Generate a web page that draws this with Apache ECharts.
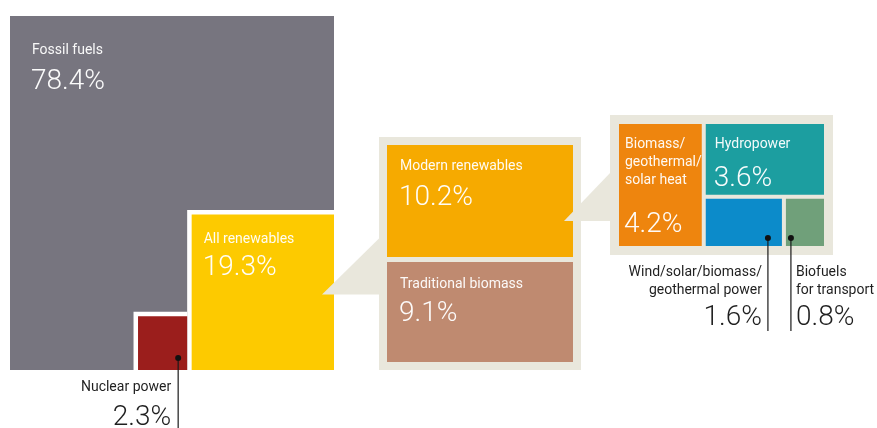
<!DOCTYPE html>
<html>
<head>
<meta charset="utf-8">
<script src="https://cdn.jsdelivr.net/npm/echarts@6.0.0/dist/echarts.min.js"></script>
<style>
html,body{margin:0;padding:0;background:#ffffff;}
#c{width:877px;height:428px;}
</style>
</head>
<body>
<div id="c"></div>
<script>
// ---------------- data (shares of final energy consumption, %) ----------------
const mainNames = ['Fossil fuels', 'Nuclear power', 'All renewables'];
const mainValues = [78.4, 2.3, 19.3];
const renewableNames = ['Modern renewables', 'Traditional biomass'];
const renewableValues = [10.2, 9.1];
const modernNames = ['Biomass/\ngeothermal/\nsolar heat', 'Hydropower', 'Wind/solar/biomass/\ngeothermal power', 'Biofuels\nfor transport'];
const modernValues = [4.2, 3.6, 1.6, 0.8];

// ---------------- layout frames (chart units) and styles ----------------
const MAIN = {x: 10, y: 16, w: 324, h: 354, gap: 4.5};
const P1 = {x: 379, y: 137, w: 202, h: 233, pad: 8, gap: 5};
const P2 = {x: 610, y: 115, w: 223, h: 140, pad: 9, gap: 4};
const COLORS = {
  fossil: '#77757f', nuclear: '#9b1e1c', renew: '#fdca00',
  modern: '#f6aa00', trad: '#bf8a70',
  biomass: '#ee850e', hydro: '#1c9ea0', wind: '#0c8bca', biofuel: '#70a07a',
  panel: '#e9e7dc'
};
const FONT = 'Roboto, "Noto Sans", sans-serif';
const NAME_FONT = '400 14px ' + FONT;
const VALUE_FONT = '300 28px ' + FONT;
const fmt = v => v.toFixed(1) + '%';
const sum = a => a.reduce((s, v) => s + v, 0);

// ---------------- value-driven geometry ----------------
const mainTotal = sum(mainValues);
const mx1 = MAIN.x + MAIN.w, my1 = MAIN.y + MAIN.h;
const kR = Math.sqrt(mainValues[2] / mainTotal);
const kN = Math.sqrt(mainValues[1] / mainTotal);
const rFossil = [MAIN.x, MAIN.y, mx1, my1];
const rRenew = [mx1 - MAIN.w * kR, my1 - MAIN.h * kR, mx1, my1];
const rNuclear = [rRenew[0] - MAIN.gap - MAIN.w * kN, my1 - MAIN.h * kN, rRenew[0] - MAIN.gap, my1];

// panel 1: vertical split of renewables
const p1x0 = P1.x + P1.pad, p1y0 = P1.y + P1.pad, p1x1 = P1.x + P1.w - P1.pad, p1y1 = P1.y + P1.h - P1.pad;
const p1hAvail = (p1y1 - p1y0) - P1.gap;
const hModern = p1hAvail * renewableValues[0] / sum(renewableValues);
const rModern = [p1x0, p1y0, p1x1, p1y0 + hModern];
const rTrad = [p1x0, p1y0 + hModern + P1.gap, p1x1, p1y1];

// panel 2: modern renewables
const p2x0 = P2.x + P2.pad, p2y0 = P2.y + P2.pad, p2x1 = P2.x + P2.w - P2.pad, p2y1 = P2.y + P2.h - P2.pad;
const modTotal = sum(modernValues);
const wBiomass = ((p2x1 - p2x0) - P2.gap) * modernValues[0] / modTotal;
const rBiomass = [p2x0, p2y0, p2x0 + wBiomass, p2y1];
const rcx0 = rBiomass[2] + P2.gap;
const restTotal = modTotal - modernValues[0];
const hHydro = ((p2y1 - p2y0) - P2.gap) * modernValues[1] / restTotal;
const rHydro = [rcx0, p2y0, p2x1, p2y0 + hHydro];
const by0 = rHydro[3] + P2.gap;
const bottomTotal = modernValues[2] + modernValues[3];
const wWind = ((p2x1 - rcx0) - P2.gap) * modernValues[2] / bottomTotal;
const rWind = [rcx0, by0, rcx0 + wWind, p2y1];
const rBiofuel = [rWind[2] + P2.gap, by0, p2x1, p2y1];

// cells: geometry + label placement
const cells = [
  {r: rFossil, c: COLORS.fossil, name: mainNames[0], value: mainValues[0], lx: 22, ly: 34, vy: 66},
  {r: rRenew, c: COLORS.renew, name: mainNames[2], value: mainValues[2], lx: 12, ly: 25, vy: 54, border: MAIN.gap},
  {r: rNuclear, c: COLORS.nuclear, border: MAIN.gap},
  {r: rModern, c: COLORS.modern, name: renewableNames[0], value: renewableValues[0], lx: 13, ly: 21, vy: 53},
  {r: rTrad, c: COLORS.trad, name: renewableNames[1], value: renewableValues[1], lx: 13, ly: 22, vy: 52},
  {r: rBiomass, c: COLORS.biomass, name: modernNames[0], value: modernValues[0], lx: 6, ly: 20, vyBottom: 21},
  {r: rHydro, c: COLORS.hydro, name: modernNames[1], value: modernValues[1], lx: 9, ly: 20, vy: 55},
  {r: rWind, c: COLORS.wind},
  {r: rBiofuel, c: COLORS.biofuel}
];

// call-out wedges (panel zoom indicators)
const w1tipY = rRenew[1] + 80;
const w2tipY = rModern[1] + 76;
const wedges = [
  [rRenew[2] - 12, w1tipY, P1.x + 1, w1tipY - 57, P1.x + 1, w1tipY],
  [rModern[2] - 9, w2tipY, P2.x + 1, w2tipY - 49, P2.x + 1, w2tipY]
];

// leader call-outs for small cells
const callouts = [
  {dot: [rNuclear[2] - 9, rNuclear[3] - 12], end: 428, align: 'right', dx: -7,
   name: mainNames[1], value: mainValues[1], ny: my1 + 17, vy: my1 + 48},
  {dot: [rWind[2] - 14, rWind[3] - 8], end: P2.y + P2.h + 76, align: 'right', dx: -6,
   name: modernNames[2], value: modernValues[2], ny: P2.y + P2.h + 17, vy: P2.y + P2.h + 63},
  {dot: [rBiofuel[0] + 5, rBiofuel[3] - 8], end: P2.y + P2.h + 76, align: 'left', dx: 5,
   name: modernNames[3], value: modernValues[3], ny: P2.y + P2.h + 17, vy: P2.y + P2.h + 63}
];

// ---------------- chart ----------------
const chart = echarts.init(document.getElementById('c'));

function textEl(api, x, y, text, font, fill, align, vAlign, lineHeight) {
  const p = api.coord([x, y]);
  return {type: 'text', x: p[0], y: p[1], silent: true,
    style: {text: text, font: font, fill: fill, align: align, verticalAlign: vAlign, lineHeight: lineHeight || undefined}};
}
function rectEl(api, x0, y0, x1, y1, fill) {
  const a = api.coord([x0, y0]), b = api.coord([x1, y1]);
  return {type: 'rect', shape: {x: a[0], y: a[1], width: b[0] - a[0], height: b[1] - a[1]}, style: {fill: fill}};
}

const option = {
  animation: false,
  backgroundColor: '#ffffff',
  grid: {left: 0, right: 0, top: 0, bottom: 0},
  xAxis: {type: 'value', min: 0, max: 877, show: false},
  yAxis: {type: 'value', min: 0, max: 428, inverse: true, show: false},
  series: [
    {
      name: 'panels', type: 'custom', clip: false, silent: true,
      data: [[P1.x, P1.y, P1.x + P1.w, P1.y + P1.h], [P2.x, P2.y, P2.x + P2.w, P2.y + P2.h]],
      renderItem: (params, api) => rectEl(api, api.value(0), api.value(1), api.value(2), api.value(3), COLORS.panel)
    },
    {
      name: 'cells', type: 'custom', clip: false, silent: true,
      data: cells.map(c => c.r),
      renderItem: (params, api) => {
        const c = cells[params.dataIndex];
        const x0 = api.value(0), y0 = api.value(1), x1 = api.value(2), y1 = api.value(3);
        const children = [];
        if (c.border) children.push(rectEl(api, x0 - c.border, y0 - c.border, x1, y1, '#ffffff'));
        children.push(rectEl(api, x0, y0, x1, y1, c.c));
        if (c.name) {
          children.push(textEl(api, x0 + c.lx, y0 + c.ly - 9, c.name, NAME_FONT, 'rgba(255,255,255,0.95)', 'left', 'top', 18));
          const vy = c.vyBottom ? y1 - c.vyBottom : y0 + c.vy;
          children.push(textEl(api, x0 + c.lx - 1, vy, fmt(c.value), VALUE_FONT, 'rgba(255,255,255,0.97)', 'left', 'middle'));
        }
        return {type: 'group', children: children};
      }
    },
    {
      name: 'wedges', type: 'custom', clip: false, silent: true,
      data: wedges,
      renderItem: (params, api) => {
        const pts = [];
        for (let i = 0; i < 6; i += 2) pts.push(api.coord([api.value(i), api.value(i + 1)]));
        return {type: 'polygon', shape: {points: pts}, style: {fill: COLORS.panel}};
      }
    },
    {
      name: 'callouts', type: 'custom', clip: false, silent: true,
      data: callouts.map(c => [c.dot[0], c.dot[1], c.end]),
      renderItem: (params, api) => {
        const c = callouts[params.dataIndex];
        const d = api.coord([api.value(0), api.value(1)]);
        const e = api.coord([api.value(0), api.value(2)]);
        const tx = api.value(0) + c.dx;
        return {type: 'group', children: [
          {type: 'line', shape: {x1: d[0], y1: d[1], x2: e[0], y2: e[1]}, style: {stroke: '#1a1a1a', lineWidth: 1.2}},
          {type: 'circle', shape: {cx: d[0], cy: d[1], r: 3}, style: {fill: '#111111'}},
          textEl(api, tx, c.ny - 9, c.name, NAME_FONT, '#1f1f1f', c.align, 'top', 18),
          textEl(api, tx, c.vy, fmt(c.value), VALUE_FONT, '#1f1f1f', c.align, 'middle')
        ]};
      }
    }
  ]
};
chart.setOption(option);
</script>
</body>
</html>
